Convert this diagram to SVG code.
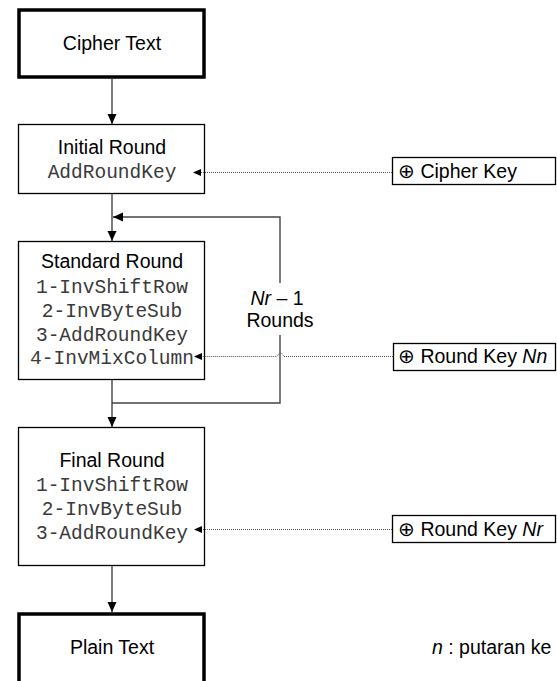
<svg xmlns="http://www.w3.org/2000/svg" width="557" height="681" viewBox="0 0 557 681">
<style>
.box{fill:#fff;stroke:#000;stroke-width:1.3}
.thick{fill:#fff;stroke:#000;stroke-width:3.5}
.sans{font-family:"Liberation Sans",Arial,sans-serif;font-size:19.5px;fill:#000}
.mono{font-family:"Liberation Mono","Courier New",monospace;font-size:19.5px;fill:#3a3a3a}
.mid{text-anchor:middle}
.conn{fill:none;stroke:#444;stroke-width:1.4}
.dot{fill:none;stroke:#555;stroke-width:1;stroke-dasharray:1 1}
.head{fill:#000}
</style>
<defs>
<marker id="ah" markerUnits="userSpaceOnUse" markerWidth="10" markerHeight="10" viewBox="0 0 10 10" refX="10" refY="5" orient="auto">
<path d="M0,0.5 L10,5 L0,9.5 Z" fill="#000"/>
</marker>
</defs>
<g id="cipher-text">
<rect class="thick" x="19" y="10" width="185" height="67"/>
<text class="sans mid" x="112" y="50">Cipher Text</text>
</g>
<g id="initial-round">
<rect class="box" x="18.5" y="124.5" width="186" height="69"/>
<text class="sans mid" x="112" y="154">Initial Round</text>
<text class="mono mid" x="112" y="178">AddRoundKey</text>
</g>
<g id="standard-round">
<rect class="box" x="18.5" y="241.5" width="186" height="138"/>
<text class="sans mid" x="112" y="268">Standard Round</text>
<text class="mono mid" x="112" y="293">1-InvShiftRow</text>
<text class="mono mid" x="112" y="317">2-InvByteSub</text>
<text class="mono mid" x="112" y="341">3-AddRoundKey</text>
<text class="mono mid" x="112" y="364">4-InvMixColumn</text>
</g>
<g id="rounds-label">
<text class="sans mid" x="277" y="305"><tspan font-style="italic">Nr</tspan> – 1</text>
<text class="sans mid" x="280" y="327">Rounds</text>
</g>
<g id="final-round">
<rect class="box" x="18.5" y="427.5" width="186" height="138"/>
<text class="sans mid" x="112" y="467">Final Round</text>
<text class="mono mid" x="112" y="491">1-InvShiftRow</text>
<text class="mono mid" x="112" y="515">2-InvByteSub</text>
<text class="mono mid" x="112" y="539">3-AddRoundKey</text>
</g>
<g id="plain-text">
<rect class="thick" x="19" y="614" width="185" height="75"/>
<text class="sans mid" x="112" y="654">Plain Text</text>
</g>
<g id="cipher-key">
<rect class="box" x="392.5" y="157.5" width="163" height="27"/>
<text class="sans" x="398" y="178">⊕ Cipher Key</text>
</g>
<g id="round-key-nn">
<rect class="box" x="393.5" y="343.5" width="162" height="27"/>
<text class="sans" x="398" y="363">⊕ Round Key <tspan font-style="italic">Nn</tspan></text>
</g>
<g id="round-key-nr">
<rect class="box" x="392.5" y="515.5" width="163" height="27"/>
<text class="sans" x="398" y="536">⊕ Round Key <tspan font-style="italic">Nr</tspan></text>
</g>
<g id="legend">
<text class="sans" x="432" y="654"><tspan font-style="italic">n</tspan> : putaran ke</text>
</g>
<g id="connectors">
<path class="conn" d="M112,78 V124" marker-end="url(#ah)"/>
<path class="conn" d="M112,194 V241" marker-end="url(#ah)"/>
<path class="conn" d="M280,283 V217 H113" marker-end="url(#ah)"/>
<path class="conn" d="M280,335 V403 H112"/>
<path class="conn" d="M112,380 V427" marker-end="url(#ah)"/>
<path class="conn" d="M112,566 V612" marker-end="url(#ah)"/>
<path class="dot" d="M392,172.5 H200"/>
<polygon class="head" points="193,172.5 201,169 201,176"/>
<path class="dot" d="M393,356.5 H284 L282,353.5 L279,353.5 L277,356.5 H201"/>
<polygon class="head" points="194,356.5 202,353 202,360"/>
<path class="dot" d="M392,529.5 H201"/>
<polygon class="head" points="194,529.5 202,526 202,533"/>
</g>
</svg>
